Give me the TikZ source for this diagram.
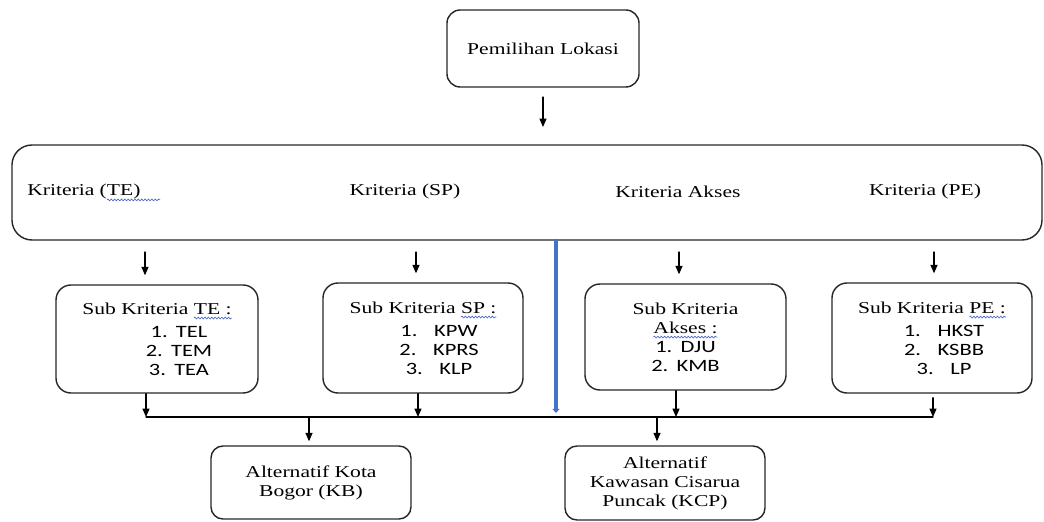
\documentclass[tikz,border=0pt]{standalone}
\usepackage{fontspec}
\setmainfont{Liberation Serif}[FakeStretch=1.3]
\setsansfont{Carlito}[FakeStretch=1.3]
\usepackage{xcolor}
\usepackage{tikz}
\usetikzlibrary{arrows.meta, decorations.pathmorphing}

\definecolor{spellblue}{RGB}{70,100,200}
\definecolor{barblue}{RGB}{68,114,196}
\newsavebox\spellbox
\newcommand\spellwave[1]{{\sbox\spellbox{#1}\tikz[overlay, baseline=0pt]\draw[spellblue, sharp corners, line width=0.45pt, decorate, decoration={snake, amplitude=0.7pt, segment length=2.4pt}] (0pt,-2.8pt) -- (\wd\spellbox,-2.8pt);\usebox\spellbox}}
\newcommand\critem[3][18pt]{{\sffamily\fontsize{12.3}{13.5}\selectfont\makebox[#1][l]{#2}#3}}

\tikzset{
  critbox/.style={draw=black!85, line width=1pt, rounded corners=3.75mm, align=center, inner sep=0pt},
  flow/.style={line width=0.8pt, -{Triangle[width=5pt,length=6pt]}}
}

\begin{document}
\begin{tikzpicture}[x=0.25mm, y=-0.25mm, line join=round, line cap=round, font=\fontsize{11.8}{13.5}\selectfont]
\useasboundingbox (0,0) rectangle (1044,522);

% goal
\node[critbox, rounded corners=3.3mm, minimum width=48mm, minimum height=19.25mm] (lokasi) at (543,48.5) {Pemilihan Lokasi};
\coordinate (g0) at (543,97);
\coordinate (g1) at (543,127);
\draw[flow] (g0) -- (g1);

% criteria
\node[critbox, rounded corners=5mm, minimum width=257.5mm, minimum height=23.75mm] (kriteria) at (527,192.5) {};
\node[anchor=west, inner sep=0pt] (kte) at (27,192) {Kriteria (\spellwave{TE)\hspace{5mm}}};
\node (ksp) at (405,192) {Kriteria (SP)};
\node (kak) at (678,192) {Kriteria Akses};
\node (kpe) at (925,192) {Kriteria (PE)};

% sub criteria
\node[critbox, minimum width=50.5mm, minimum height=27mm] (te) at (157,339)
  {Sub Kriteria \spellwave{TE :}\\[3pt]
   \hspace*{11mm}\critem{1.}{TEL}\\ \hspace*{11mm}\critem{2.}{TEM}\\ \hspace*{11mm}\critem{3.}{TEA}};
\node[critbox, minimum width=50mm, minimum height=27.5mm] (sp) at (423,338)
  {Sub Kriteria \spellwave{SP :}\\[3pt]
   \hspace*{8mm}\critem[24pt]{1.}{KPW}\\ \hspace*{8mm}\critem[24pt]{2.}{KPRS}\\ \hspace*{8mm}\critem[24pt]{3.}{KLP}};
\node[critbox, minimum width=50.25mm, minimum height=26.5mm] (akses) at (685.5,337)
  {Sub Kriteria\\ \spellwave{Akses :}\\
   \critem{1.}{DJU}\\ \critem{2.}{KMB}};
\node[critbox, minimum width=50mm, minimum height=27.5mm] (pe) at (932,338)
  {Sub Kriteria \spellwave{PE :}\\[3pt]
   \hspace*{6mm}\critem[24pt]{1.}{HKST}\\ \hspace*{6mm}\critem[24pt]{2.}{KSBB}\\ \hspace*{6mm}\critem[24pt]{3.}{LP}};

\coordinate (u1) at (145,252);
\coordinate (u2) at (416,252);
\coordinate (u3) at (679,252);
\coordinate (u4) at (934,252);
\draw[flow, shorten >=2.25mm] (u1) -- (u1 |- te.north);
\draw[flow, shorten >=2.25mm] (u2) -- (u2 |- sp.north);
\draw[flow, shorten >=2.25mm] (u3) -- (u3 |- akses.north);
\draw[flow, shorten >=2.25mm] (u4) -- (u4 |- pe.north);

% blue bar
\coordinate (bar) at (556,413);
\draw[barblue, line width=2.6pt, -{Triangle[width=5pt,length=3pt]}] (bar |- kriteria.south) -- (bar);

% join line
\coordinate (j1) at (146,417);
\coordinate (j2) at (418,417);
\coordinate (j3) at (676,417);
\coordinate (j4) at (933,417);
\draw[flow] (te.south -| j1) -- (j1);
\draw[flow] (sp.south -| j2) -- (j2);
\draw[flow] (akses.south -| j3) -- (j3);
\draw[flow, shorten <=1mm] (pe.south -| j4) -- (j4);
\draw[line width=0.8pt] (j1) -- (j4);

% alternatives
\node[critbox, rounded corners=3mm, minimum width=50mm, minimum height=18.25mm] (kb) at (311,482.5) {Alternatif Kota\\ Bogor (KB)};
\node[critbox, rounded corners=3mm, minimum width=50mm, minimum height=18.5mm] (kcp) at (665,483) {Alternatif\\ Kawasan Cisarua\\ Puncak (KCP)};
\coordinate (d1) at (309,417);
\coordinate (d2) at (657,417);
\draw[flow, shorten >=1mm] (d1) -- (d1 |- kb.north);
\draw[flow, shorten >=1mm] (d2) -- (d2 |- kcp.north);

\end{tikzpicture}
\end{document}
